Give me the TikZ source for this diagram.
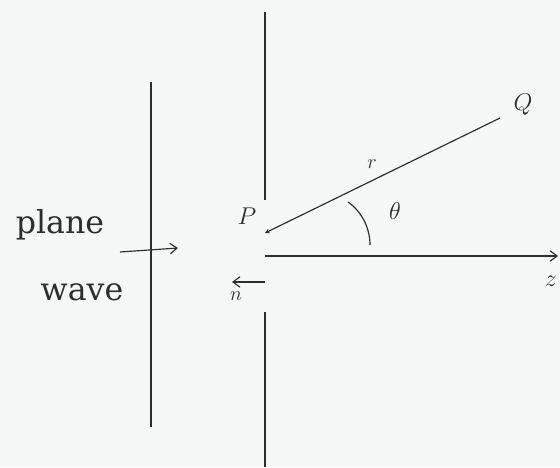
\documentclass[tikz,border=0pt]{standalone}
\usepackage{fontspec}
\newfontfamily\slabfont{DejaVu Serif}
\definecolor{PaperGrey}{RGB}{246, 248, 248}
\definecolor{InkGrey}{RGB}{45, 45, 45}
\usetikzlibrary{arrows.meta, positioning}

\begin{document}
\begin{tikzpicture}[x=0.03cm, y=0.03cm, line width=1pt, draw=InkGrey,
		hand/.style={text=InkGrey, inner sep=1pt, font=\huge},
		words/.style={text=InkGrey, inner sep=0pt, font=\slabfont\fontsize{27}{30}\selectfont},
		barb/.style={-{Straight Barb[length=6pt, width=9pt]}}]
			\fill[PaperGrey] (0,0) rectangle (560,467);
			\useasboundingbox (0,0) rectangle (560,467);
			% incoming wavefront and screen with the aperture
			\draw (151,40) -- (151,385);
			\draw (265,267) -- (265,455);
			\draw (265,0) -- (265,155);
			% points
			\coordinate (P) at (265,234);
			\coordinate (Qend) at (500,349);
			\coordinate (origin) at (265,211);
			\coordinate (zend) at (558,211);
			\coordinate (nstart) at (265,185);
			\coordinate (nend) at (232,185);
			\coordinate (waveA) at (120,215);
			\coordinate (waveB) at (178,219);
			% labels
			\node[words] (plane) at (60,242) {plane};
			\node[words] (wave) at (82,175) {wave};
			\node[hand] (Plab) at (247,251) {$P$};
			\node[hand] (Qlab) at (523,362) {$Q$};
			\node[hand, font=\LARGE] (rlab) at (372,303) {$r$};
			\node[hand] (thlab) at (395,256) {$\theta$};
			\node[hand] (zlab) at (551,186) {$z$};
			\node[hand, font=\LARGE] (nlab) at (236,171) {$n$};
			% connectors
			\draw[-{Stealth[length=4pt, width=4pt]}] (Qend) -- (P);
			\draw[barb] (origin) -- (zend);
			\draw[barb] (nstart) -- (nend);
			\draw[barb] (waveA) -- (waveB);
			\draw (348,265) .. controls (362,255) and (370,239) .. (370,222);
		\end{tikzpicture}
\end{document}
